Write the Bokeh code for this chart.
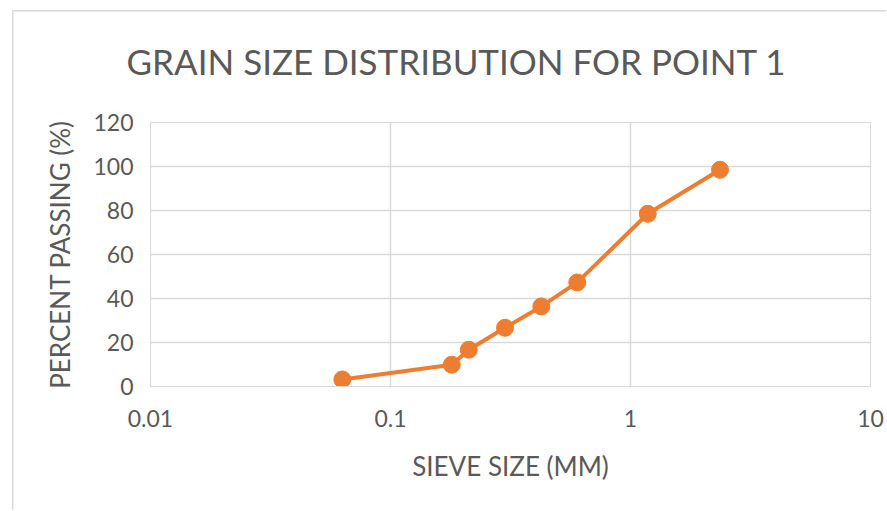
from bokeh.plotting import figure
from bokeh.models import FixedTicker, Range1d
from bokeh.embed import file_html
from bokeh.resources import INLINE

# Data
sieve_size_mm = [0.063, 0.18, 0.212, 0.3, 0.425, 0.6, 1.18, 2.36]
percent_passing = [3.2, 9.9, 16.7, 26.7, 36.4, 47.3, 78.5, 98.5]

x_tick_values = [0.01, 0.1, 1, 10]
x_tick_labels = ["0.01", "0.1", "1", "10"]
y_tick_values = [0, 20, 40, 60, 80, 100, 120]

title_text = "GRAIN SIZE DISTRIBUTION FOR POINT 1"
x_label = "SIEVE SIZE (MM)"
y_label = "PERCENT PASSING (%)"

FONT = "Lato"
TEXT = "#595959"
GRID = "#D9D9D9"
ORANGE = "#ED7D31"

p = figure(width=874, height=510, x_axis_type="log",
           x_range=Range1d(0.01, 10), y_range=Range1d(0, 120),
           output_backend="svg", toolbar_location=None,
           min_border_left=138, min_border_right=16,
           min_border_top=122, min_border_bottom=124)

p.title.text = title_text
p.title.text_font = FONT
p.title.text_font_size = "35px"
p.title.text_font_style = "normal"
p.title.text_color = TEXT
p.title.align = "left"
p.title.vertical_align = "top"
p.title.offset = -24
p.title.standoff = 78

p.outline_line_color = GRID
p.background_fill_color = "white"
p.border_fill_color = None

p.xaxis.ticker = FixedTicker(ticks=x_tick_values, minor_ticks=[])
p.xaxis.major_label_overrides = dict(zip(x_tick_values, x_tick_labels))
p.yaxis.ticker = FixedTicker(ticks=y_tick_values, minor_ticks=[])

for ax in (p.xaxis, p.yaxis):
    ax.axis_line_color = GRID
    ax.major_tick_line_color = None
    ax.minor_tick_line_color = None
    ax.major_label_text_font = FONT
    ax.major_label_text_font_size = "23px"
    ax.major_label_text_color = TEXT
    ax.axis_label_text_font = FONT
    ax.axis_label_text_font_size = "26px"
    ax.axis_label_text_font_style = "normal"
    ax.axis_label_text_color = TEXT

p.xaxis.axis_label = x_label
p.yaxis.axis_label = y_label
p.xaxis.major_label_standoff = 17
p.xaxis.axis_label_standoff = 20
p.yaxis.major_label_standoff = 11
p.yaxis.axis_label_standoff = 14

p.xgrid.grid_line_color = GRID
p.ygrid.grid_line_color = GRID
p.xgrid.grid_line_width = 1.5
p.ygrid.grid_line_width = 1.5

p.line(sieve_size_mm, percent_passing, line_color=ORANGE, line_width=4)
p.scatter(sieve_size_mm, percent_passing, size=17, fill_color=ORANGE, line_color=ORANGE)

p.styles = {
    "margin-left": "12px",
    "background": ("linear-gradient(#D9D9D9, #D9D9D9) 0 10px / 100% 1.5px no-repeat, "
                   "linear-gradient(#D9D9D9, #D9D9D9) 0 10px / 1.5px 100% no-repeat, white"),
}

open("out.html", "w").write(file_html(p, INLINE))
